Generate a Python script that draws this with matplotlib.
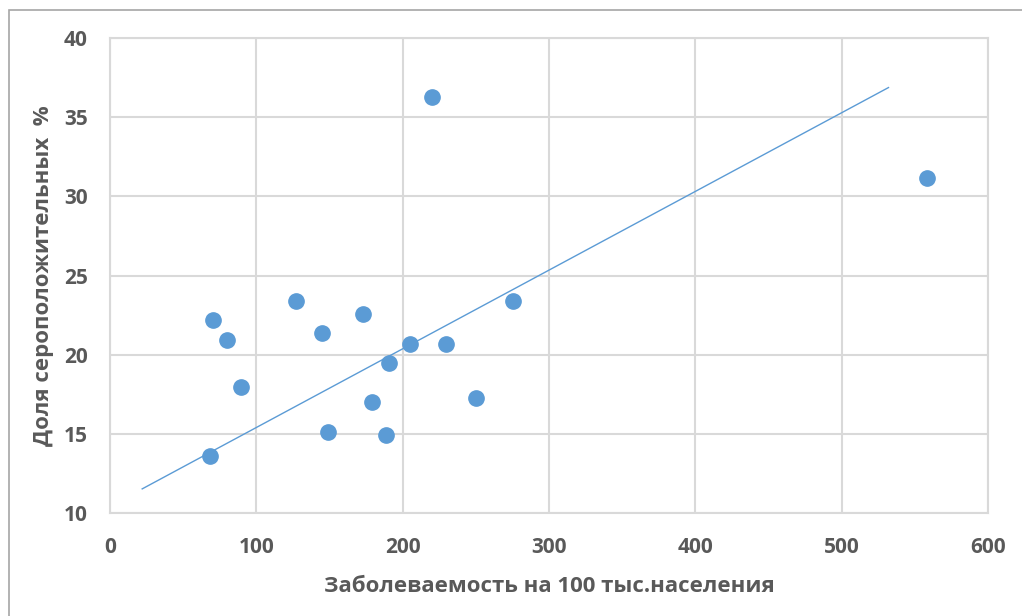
import matplotlib.pyplot as plt
from matplotlib.patches import Rectangle

# заболеваемость на 100 тыс. / доля серопозитивных, %
incidence = [68.4, 70.4, 80.0, 89.5, 127.0, 145.0, 149.0, 173.0, 179.0,
             188.6, 190.7, 205.0, 220.0, 229.7, 250.0, 275.5, 558.4]
seropos = [13.6, 22.2, 20.9, 17.95, 23.4, 21.4, 15.1, 22.55, 17.0,
           14.9, 19.45, 20.7, 36.3, 20.7, 17.25, 23.4, 31.15]
# линия тренда (как в Excel)
trend_x = [22, 532]
slope, intercept = 0.0497, 10.43

xticks = [0, 100, 200, 300, 400, 500, 600]
yticks = [10, 15, 20, 25, 30, 35, 40]

plt.rcParams['font.family'] = ['Open Sans', 'DejaVu Sans']
txt = '#595959'
grid = '#d9d9d9'

fig = plt.figure(figsize=(10.22, 6.16), dpi=100)
fig.patches.append(Rectangle((9/1022, -0.1), 1.2, 1.1 - 10/616, transform=fig.transFigure,
                             fill=False, edgecolor='#a6a6a6', lw=1.2))
ax = fig.add_axes([110/1022, 103/616, 878/1022, 475/616])

ax.plot(trend_x, [slope*x + intercept for x in trend_x], color='#5b9bd5', lw=1)
ax.plot(incidence, seropos, 'o', color='#5b9bd5', ms=11, zorder=3)

ax.set_xlim(0, 600)
ax.set_ylim(10, 40)
ax.set_xticks(xticks)
ax.set_yticks(yticks)
ax.grid(True, color=grid, lw=1.5)
ax.set_axisbelow(True)
for s in ax.spines.values():
    s.set_color(grid)
    s.set_linewidth(1.5)
ax.tick_params(length=0, labelsize=15, labelcolor=txt)
ax.tick_params(axis='x', pad=17)
ax.tick_params(axis='y', pad=16)
for lab in ax.get_xticklabels() + ax.get_yticklabels():
    lab.set_fontweight('bold')

ax.set_xlabel('Заболеваемость на 100 тыс.населения', fontsize=16, fontweight='bold',
              color=txt, labelpad=13)
ax.set_ylabel('Доля сероположительных  %', fontsize=16, fontweight='bold', color=txt,
              labelpad=7)

plt.savefig('out.png', dpi=100)
